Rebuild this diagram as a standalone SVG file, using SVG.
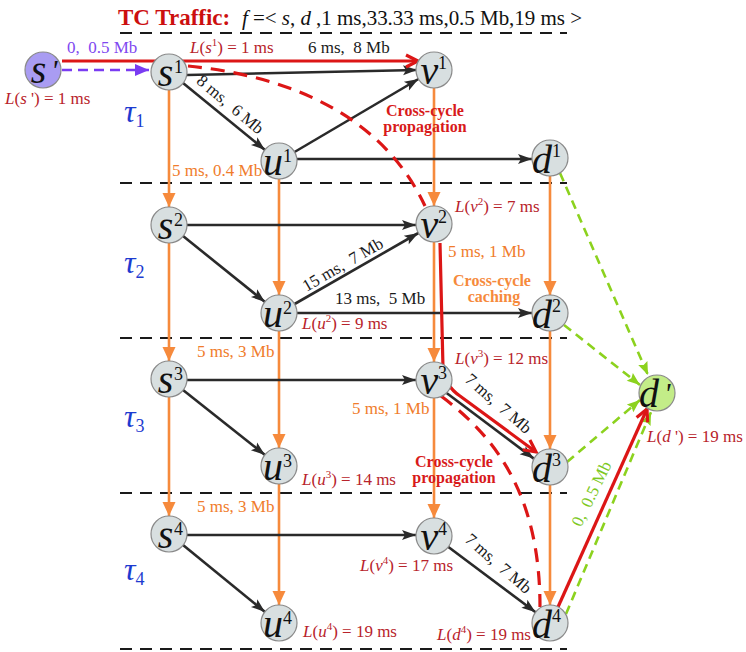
<svg xmlns="http://www.w3.org/2000/svg" width="746" height="652" viewBox="0 0 746 652" font-family="'Liberation Serif', 'Times New Roman', serif">
<style>
text{font-family:"Liberation Serif","Times New Roman",serif}
.node{fill:#d8dfe0;stroke:#8a8a8a;stroke-width:1.2}
.nl{font-size:40px;font-style:italic;text-anchor:middle;fill:#111}
.sp{font-size:18px;fill:#111}
.pr{font-size:30px;font-style:italic;fill:#111}
.sep{stroke:#1a1a1a;stroke-width:2;stroke-dasharray:12 8;fill:none}
.blk{stroke:#2a2a2a;stroke-width:2.6;fill:none;marker-end:url(#mb)}
.org{stroke:#f68a3c;stroke-width:2.6;fill:none;marker-end:url(#mo)}
.grn{stroke:#8cd21e;stroke-width:2.6;fill:none;stroke-dasharray:9 6;marker-end:url(#mg)}
.red{stroke:#dc1616;stroke-width:3.2;fill:none;marker-end:url(#mr)}
.redd{stroke:#dc1616;stroke-width:3.2;fill:none;stroke-dasharray:14 9}
.lab{font-size:17px;fill:#1a1a1a}
.ol{font-size:17px;fill:#f07c2c}
.rl{font-size:17px;fill:#b8232b}
.rb{font-size:16px;font-weight:bold;fill:#d81a1a;text-anchor:middle}
.ob{font-size:16px;font-weight:bold;fill:#f68a3c;text-anchor:middle}
.tau{font-size:32px;font-style:italic;fill:#1d3bd0}
.i{font-style:italic}
</style>
<defs>
<marker id="mb" markerUnits="userSpaceOnUse" markerWidth="16" markerHeight="12" refX="14" refY="5" orient="auto" overflow="visible"><path d="M0,0 L14,5 L0,10 L3,5 z" fill="#2a2a2a"/></marker>
<marker id="mo" markerUnits="userSpaceOnUse" markerWidth="16" markerHeight="14" refX="14" refY="6.5" orient="auto" overflow="visible"><path d="M0,0 L14,6.5 L0,13 z" fill="#f68a3c"/></marker>
<marker id="mg" markerUnits="userSpaceOnUse" markerWidth="14" markerHeight="12" refX="13" refY="5" orient="auto" overflow="visible"><path d="M0,0 L13,5 L0,10 L2,5 z" fill="#8cd21e"/></marker>
<marker id="mp" markerUnits="userSpaceOnUse" markerWidth="16" markerHeight="14" refX="14" refY="6" orient="auto" overflow="visible"><path d="M0,0 L14,6 L0,12 z" fill="#7a3cf2"/></marker>
<marker id="mr" markerUnits="userSpaceOnUse" markerWidth="16" markerHeight="16" refX="13" refY="7" orient="auto" overflow="visible"><path d="M1,1 L13,7 L1,13" fill="none" stroke="#dc1616" stroke-width="3.2"/></marker>
</defs>

<text x="118" y="25" font-size="23" font-weight="bold" fill="#cc0f0f">TC Traffic:</text>
<text x="242" y="25" font-size="21" fill="#111" textLength="340" lengthAdjust="spacing"><tspan class="i">f</tspan> =&lt; <tspan class="i">s</tspan>, <tspan class="i">d</tspan> ,1 ms,33.33 ms,0.5 Mb,19 ms &gt;</text>

<g id="separators">
<line class="sep" x1="120" y1="33" x2="567" y2="33"/>
<line class="sep" x1="120" y1="183" x2="567" y2="183"/>
<line class="sep" x1="120" y1="338" x2="567" y2="338"/>
<line class="sep" x1="120" y1="493" x2="567" y2="493"/>
<line class="sep" x1="120" y1="649" x2="567" y2="649"/>
</g>

<g id="cycles">
<text class="tau" x="124" y="122">τ<tspan font-size="18" font-style="normal" dy="5">1</tspan></text>
<text class="tau" x="124" y="273">τ<tspan font-size="18" font-style="normal" dy="5">2</tspan></text>
<text class="tau" x="124" y="427">τ<tspan font-size="18" font-style="normal" dy="5">3</tspan></text>
<text class="tau" x="124" y="580">τ<tspan font-size="18" font-style="normal" dy="5">4</tspan></text>
</g>

<g id="connectors">
<path class="org" d="M169,90 L169,207"/>
<path class="org" d="M169,243 L169,361"/>
<path class="org" d="M169,397 L169,516"/>
<path class="org" d="M279,179 L279,295"/>
<path class="org" d="M279,331 L279,448"/>
<path class="org" d="M279,484 L279,605"/>
<path class="org" d="M434,88 L434,206"/>
<path class="org" d="M434,242 L434,362"/>
<path class="org" d="M434,398 L434,518"/>
<path class="org" d="M550,176 L550,295"/>
<path class="org" d="M550,331 L550,449"/>
<path class="org" d="M550,485 L550,605"/>
<path class="blk" d="M187,75 L417,70"/>
<path class="blk" d="M183,83 L265,150"/>
<path class="blk" d="M294.5,152 L418.5,79"/>
<path class="blk" d="M297,159 L532,159"/>
<path class="blk" d="M187,225 L416,225"/>
<path class="blk" d="M183,236 L265,302"/>
<path class="blk" d="M294.6,304 L418.4,233"/>
<path class="blk" d="M297,313 L532,313"/>
<path class="blk" d="M187,380 L416,380"/>
<path class="blk" d="M183,390 L265,455"/>
<path class="blk" d="M446.6,393 L533.8,458.6"/>
<path class="blk" d="M187,535 L416,535"/>
<path class="blk" d="M183,545 L265,612"/>
<path class="blk" d="M448.4,547 L535.6,612.2"/>
<path class="grn" d="M560,173 L648,375"/>
<path class="grn" d="M564,325 L640,385"/>
<path class="grn" d="M567,462 L640,400"/>
<path class="grn" d="M566,614 L651,412"/>
<path d="M62,70 L149,70" stroke="#7a3cf2" stroke-width="2.6" stroke-dasharray="10 6" fill="none" marker-end="url(#mp)"/>
<path class="red" d="M62,61 L418,61"/>
<path class="red" d="M440,243 L443,368 Q445,386 460,396 L536,452"/>
<path class="red" d="M558,607 L647,409"/>
<path class="redd" d="M188,66 C280,75 380,110 425,206"/>
<path class="redd" d="M441,396 C500,440 540,500 540,607"/>
</g>

<g id="labels">
<text x="67" y="53" font-size="17" fill="#8048f0">0,&#160; 0.5 Mb</text>
<text class="rl" x="190" y="53"><tspan class="i">L</tspan>(<tspan class="i">s</tspan><tspan font-size="11" dy="-7">1</tspan><tspan dy="7">) = 1 ms</tspan></text>
<text class="lab" x="308" y="53">6 ms,&#160; 8 Mb</text>
<text class="rl" x="5" y="104"><tspan class="i">L</tspan>(<tspan class="i">s</tspan> ') = 1 ms</text>
<text class="lab" text-anchor="middle" transform="translate(230,105) rotate(40)" y="5">8 ms,&#160; 6 Mb</text>
<text class="ol" x="172" y="176">5 ms, 0.4 Mb</text>
<text class="rb" x="425" y="116">Cross-cycle</text>
<text class="rb" x="425" y="132">propagation</text>
<text class="rl" x="455" y="212"><tspan class="i">L</tspan>(<tspan class="i">v</tspan><tspan font-size="11" dy="-7">2</tspan><tspan dy="7">) = 7 ms</tspan></text>
<text class="ol" x="448" y="257">5 ms, 1 Mb</text>
<text class="ob" x="492" y="286">Cross-cycle</text>
<text class="ob" x="494" y="302">caching</text>
<text class="lab" text-anchor="middle" transform="translate(343,265) rotate(-30)" y="5">15 ms,&#160; 7 Mb</text>
<text class="lab" x="335" y="304">13 ms,&#160; 5 Mb</text>
<text class="rl" x="302" y="329"><tspan class="i">L</tspan>(<tspan class="i">u</tspan><tspan font-size="11" dy="-7">2</tspan><tspan dy="7">) = 9 ms</tspan></text>
<text class="ol" x="197" y="357">5 ms, 3 Mb</text>
<text class="rl" x="455" y="364"><tspan class="i">L</tspan>(<tspan class="i">v</tspan><tspan font-size="11" dy="-7">3</tspan><tspan dy="7">) = 12 ms</tspan></text>
<text class="ol" x="352" y="414">5 ms, 1 Mb</text>
<text class="lab" text-anchor="middle" transform="translate(498,404) rotate(41)" y="5">7 ms,&#160; 7 Mb</text>
<text class="rl" x="302" y="485"><tspan class="i">L</tspan>(<tspan class="i">u</tspan><tspan font-size="11" dy="-7">3</tspan><tspan dy="7">) = 14 ms</tspan></text>
<text class="rb" x="454" y="467">Cross-cycle</text>
<text class="rb" x="454" y="483">propagation</text>
<text class="rl" x="647" y="442"><tspan class="i">L</tspan>(<tspan class="i">d</tspan> ') = 19 ms</text>
<text class="ol" x="197" y="512">5 ms, 3 Mb</text>
<text class="rl" x="360" y="571"><tspan class="i">L</tspan>(<tspan class="i">v</tspan><tspan font-size="11" dy="-7">4</tspan><tspan dy="7">) = 17 ms</tspan></text>
<text class="lab" text-anchor="middle" transform="translate(498,564) rotate(41)" y="5">7 ms,&#160; 7 Mb</text>
<text class="rl" x="303" y="637"><tspan class="i">L</tspan>(<tspan class="i">u</tspan><tspan font-size="11" dy="-7">4</tspan><tspan dy="7">) = 19 ms</tspan></text>
<text class="rl" x="437" y="640"><tspan class="i">L</tspan>(<tspan class="i">d</tspan><tspan font-size="11" dy="-7">4</tspan><tspan dy="7">) = 19 ms</tspan></text>
<text font-size="17" fill="#7dc81e" text-anchor="middle" transform="translate(592,494) rotate(-64)" y="5">0,&#160; 0.5 Mb</text>
</g>

<g id="n-sprime"><circle cx="43" cy="70" r="18" fill="#a99cf2" stroke="#8a8a8a" stroke-width="1.2"/><text class="nl" x="38.5" y="83">s</text><text class="pr" x="51" y="80">'</text></g>
<g id="n-dprime"><circle cx="657" cy="393" r="18" fill="#c3ec88" stroke="#8a8a8a" stroke-width="1.2"/><text class="nl" x="649" y="407">d</text><text class="pr" x="664" y="403">'</text></g>

<g id="n-s1"><circle class="node" cx="169" cy="72" r="18"/><text class="nl" x="165.5" y="86">s</text><text class="sp" x="174" y="73">1</text></g>
<g id="n-s2"><circle class="node" cx="169" cy="225" r="18"/><text class="nl" x="165.5" y="239">s</text><text class="sp" x="174" y="226">2</text></g>
<g id="n-s3"><circle class="node" cx="169" cy="379" r="18"/><text class="nl" x="165.5" y="393">s</text><text class="sp" x="174" y="380">3</text></g>
<g id="n-s4"><circle class="node" cx="169" cy="534" r="18"/><text class="nl" x="165.5" y="548">s</text><text class="sp" x="174" y="535">4</text></g>

<g id="n-u1"><circle class="node" cx="279" cy="161" r="18"/><text class="nl" x="273" y="175">u</text><text class="sp" x="283" y="162">1</text></g>
<g id="n-u2"><circle class="node" cx="279" cy="313" r="18"/><text class="nl" x="273" y="327">u</text><text class="sp" x="283" y="314">2</text></g>
<g id="n-u3"><circle class="node" cx="279" cy="466" r="18"/><text class="nl" x="273" y="480">u</text><text class="sp" x="283" y="467">3</text></g>
<g id="n-u4"><circle class="node" cx="279" cy="623" r="18"/><text class="nl" x="273" y="637">u</text><text class="sp" x="283" y="624">4</text></g>

<g id="n-v1"><circle class="node" cx="434" cy="70" r="18"/><text class="nl" x="429.5" y="84">v</text><text class="sp" x="438" y="69">1</text></g>
<g id="n-v2"><circle class="node" cx="434" cy="224" r="18"/><text class="nl" x="429.5" y="238">v</text><text class="sp" x="438" y="223">2</text></g>
<g id="n-v3"><circle class="node" cx="434" cy="380" r="18"/><text class="nl" x="429.5" y="394">v</text><text class="sp" x="438" y="379">3</text></g>
<g id="n-v4"><circle class="node" cx="434" cy="536" r="18"/><text class="nl" x="429.5" y="550">v</text><text class="sp" x="438" y="535">4</text></g>

<g id="n-d1"><circle class="node" cx="550" cy="158" r="18"/><text class="nl" x="542" y="173">d</text><text class="sp" x="552" y="157">1</text></g>
<g id="n-d2"><circle class="node" cx="550" cy="313" r="18"/><text class="nl" x="542" y="328">d</text><text class="sp" x="552" y="312">2</text></g>
<g id="n-d3"><circle class="node" cx="550" cy="467" r="18"/><text class="nl" x="542" y="482">d</text><text class="sp" x="552" y="466">3</text></g>
<g id="n-d4"><circle class="node" cx="550" cy="623" r="18"/><text class="nl" x="542" y="638">d</text><text class="sp" x="552" y="622">4</text></g>
</svg>
